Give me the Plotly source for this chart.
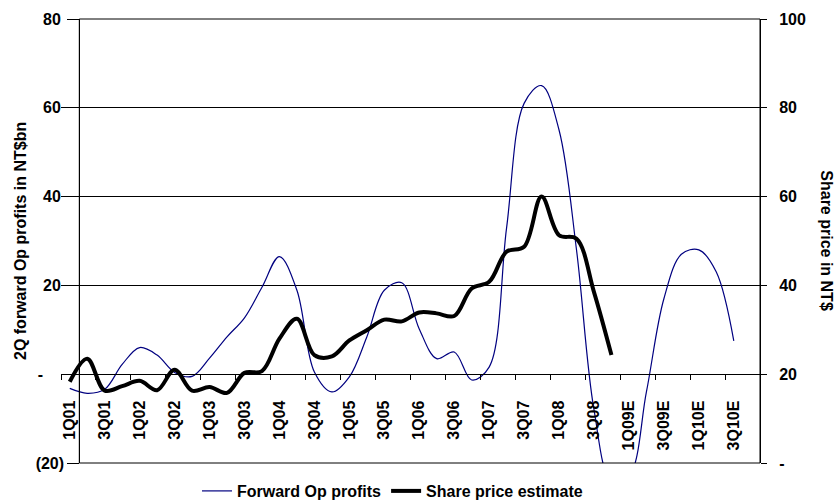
import plotly.graph_objects as go

# ---------------- data ----------------
quarters = [f"{q}Q0{y}" for y in range(1, 9) for q in range(1, 5)] + \
           [f"{q}Q{y:02d}E" for y in (9, 10) for q in range(1, 5)]

fwd_op_profits = [-3.2, -4.3, -3.4, 2.2, 6.0, 4.3, 0.4, -0.5, 3.6, 8.4,
                  12.7, 19.6, 26.5, 18.9, 0.5, -4.0, -0.6, 8.4, 18.9, 20.6,
                  10.2, 3.5, 5.0, -1.3, 1.6, 33.0, 61.0, 65.0, 55.0, 28.0,
                  -8.0, -24.0, -23.0, -4.0, 17.0, 27.0, 28.0, 23.0, 7.5]

share_price = [18.3, 23.5, 16.3, 17.3, 18.5, 16.4, 21.0, 16.3, 17.1, 15.8,
               20.3, 20.7, 28.0, 32.5, 24.3, 24.0, 27.6, 29.9, 32.3, 31.9,
               33.9, 33.7, 33.1, 39.3, 40.8, 47.6, 48.7, 60.0, 51.3, 50.5,
               38.5, 24.3]

left_ticks = [-20, 0, 20, 40, 60, 80]
left_labels = ["(20)", "-\u00a0\u00a0\u00a0\u00a0\u2009", "20\u2009", "40\u2009", "60\u2009", "80\u2009"]
right_ticks = [0, 20, 40, 60, 80, 100]
right_labels = ["-", "20", "40", "60", "80", "100"]

label_quarters = quarters[:39:2]

# ---------------- figure ----------------
FONT = dict(family="Liberation Sans, Arial, sans-serif", size=16, color="black", weight="bold")

idx_fwd = list(range(len(fwd_op_profits)))
idx_px = list(range(len(share_price)))

fig = go.Figure()
fig.add_trace(go.Scatter(
    x=idx_fwd, y=fwd_op_profits, name="Forward Op profits",
    mode="lines", line=dict(color="#000080", width=1.2, shape="spline", smoothing=1.0),
    yaxis="y"))
fig.add_trace(go.Scatter(
    x=idx_px, y=share_price, name="Share price estimate",
    mode="lines", line=dict(color="black", width=4, shape="spline", smoothing=1.0),
    yaxis="y2"))

L, R, T, B = 61, 76, 19, 38
W, H = 836, 501
pw = W - L - R
ph = H - T - B
ypos = (79.3 - L) / pw

fig.update_layout(
    width=W, height=H,
    margin=dict(l=L, r=R, t=T, b=B, pad=0, autoexpand=False),
    paper_bgcolor="white", plot_bgcolor="white",
    font=FONT,
    showlegend=True,
    legend=dict(orientation="h", x=(197 - L) / pw, xanchor="left",
                y=(H - B - 491) / ph, yanchor="middle",
                font=FONT, bgcolor="rgba(0,0,0,0)"),
    xaxis=dict(
        range=[-0.5, len(quarters) - 0.5],
        anchor="free", position=0.2,
        tickmode="array", tickvals=list(range(0, 39, 2)), ticktext=label_quarters,
        tickangle=-90, ticks="", ticklabelstandoff=19,
        tickfont=FONT,
        minor=dict(tick0=-0.5, dtick=2, ticks="outside", ticklen=5, tickcolor="black", tickwidth=1),
        showline=True, linecolor="black", linewidth=1,
        showgrid=False, zeroline=False,
    ),
    yaxis=dict(
        range=[-20, 80], anchor="free", position=ypos,
        tickmode="array", tickvals=left_ticks, ticktext=left_labels,
        ticks="outside", ticklen=12, tickcolor="black",
        showline=True, linecolor="black", linewidth=1,
        showgrid=True, gridcolor="black", gridwidth=1,
        zeroline=False, tickfont=FONT,
    ),
    yaxis2=dict(
        range=[0, 100], overlaying="y", side="right", anchor="x",
        tickmode="array", tickvals=right_ticks, ticktext=right_labels,
        ticks="outside", ticklen=6, tickcolor="black", ticklabelstandoff=9,
        showline=True, linecolor="black", linewidth=1,
        showgrid=False, zeroline=False, tickfont=FONT,
    ),
    shapes=[dict(type="rect", xref="paper", yref="paper", x0=ypos, x1=1, y0=0, y1=1,
                 line=dict(color="black", width=1), layer="above")],
    annotations=[
        dict(text="2Q forward Op profits in NT$bn", xref="paper", yref="paper",
             x=(20 - L) / pw, y=0.5, xanchor="center", yanchor="middle",
             textangle=-90, showarrow=False, font=FONT),
        dict(text="Share price in NT$", xref="paper", yref="paper",
             x=(826.7 - L) / pw, y=0.5, xanchor="center", yanchor="middle",
             textangle=90, showarrow=False, font=FONT),
    ],
)

fig.write_html("out.html", config={"displayModeBar": False},
               post_script="document.body.style.margin='0px';")
